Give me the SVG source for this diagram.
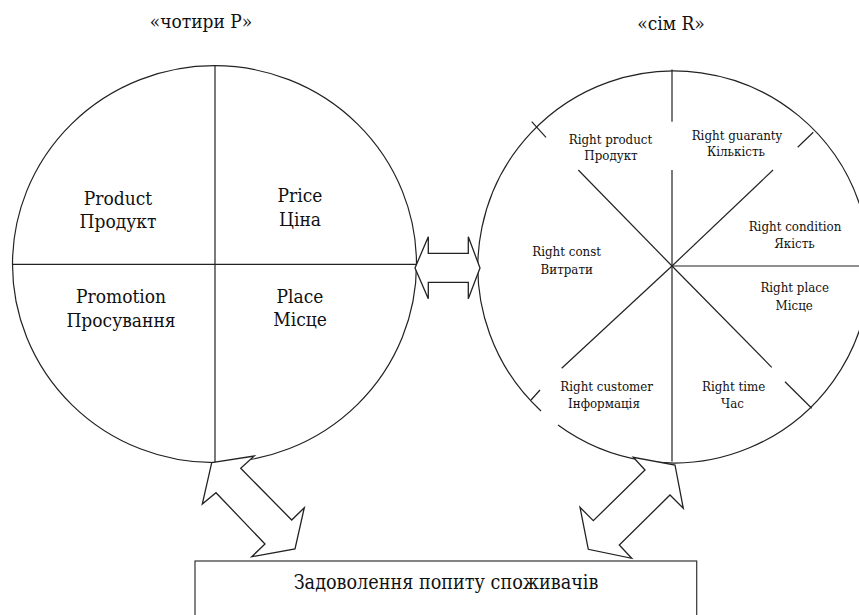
<svg xmlns="http://www.w3.org/2000/svg" width="859" height="615" viewBox="0 0 859 615">
<style>
  .ln{fill:none;stroke:#222;stroke-width:1.2}
  .ar{fill:#fff;stroke:#222;stroke-width:1.3;stroke-linejoin:miter}
  .t{fill:#111;text-anchor:middle;font-family:'DejaVu Serif',serif;font-stretch:condensed}
  .big{font-size:19px}
  .sm{font-size:13.2px}
</style>
<rect width="859" height="615" fill="#fff"/>
<g id="title-4p"><text class="t big" x="201" y="28">«чотири P»</text></g>
<g id="title-7r"><text class="t big" x="671" y="30">«сім R»</text></g>

<g id="four-p">
  <ellipse class="ln" cx="214.5" cy="264.2" rx="202" ry="198.5"/>
  <line class="ln" x1="215" y1="65.7" x2="215" y2="462.7" stroke="#555"/>
  <line class="ln" x1="12.5" y1="264.3" x2="416.5" y2="264.3"/>
  <text class="t big" x="118" y="205">Product</text>
  <text class="t big" x="118" y="228">Продукт</text>
  <text class="t big" x="300" y="202">Price</text>
  <text class="t big" x="300" y="226">Ціна</text>
  <text class="t big" x="121" y="303">Promotion</text>
  <text class="t big" x="121" y="327">Просування</text>
  <text class="t big" x="300" y="303">Place</text>
  <text class="t big" x="300" y="326">Місце</text>
</g>

<g id="seven-r">
  <path class="ln" d="M541,411 A196,196 0 1 1 558,425"/>
  <line class="ln" x1="672" y1="69.5" x2="672" y2="121.7"/>
  <line class="ln" x1="672" y1="170" x2="672" y2="266"/>
  <line class="ln" x1="672" y1="266" x2="672" y2="461.5"/>
  <line class="ln" x1="672" y1="266" x2="859" y2="266"/>
  <line class="ln" x1="672" y1="266" x2="578.3" y2="170"/>
  <line class="ln" x1="546" y1="137.3" x2="531.7" y2="121.7"/>
  <line class="ln" x1="672" y1="266" x2="773" y2="170"/>
  <line class="ln" x1="797.7" y1="147.3" x2="813.3" y2="132.3"/>
  <line class="ln" x1="672" y1="266" x2="561.7" y2="368.3"/>
  <line class="ln" x1="540" y1="390" x2="531" y2="400"/>
  <line class="ln" x1="672" y1="266" x2="771.7" y2="367.3"/>
  <line class="ln" x1="785" y1="381.7" x2="811.7" y2="408.3"/>
  <text class="t sm" x="610.5" y="144">Right product</text>
  <text class="t sm" x="611" y="160">Продукт</text>
  <text class="t sm" x="737" y="140">Right guaranty</text>
  <text class="t sm" x="736" y="156">Кількість</text>
  <text class="t sm" x="795" y="231">Right condition</text>
  <text class="t sm" x="794.5" y="247.5">Якість</text>
  <text class="t sm" x="566.7" y="256">Right const</text>
  <text class="t sm" x="566.7" y="273.5">Витрати</text>
  <text class="t sm" x="794.7" y="292">Right place</text>
  <text class="t sm" x="794.2" y="309.5">Місце</text>
  <text class="t sm" x="606.7" y="391">Right customer</text>
  <text class="t sm" x="604" y="407.5">Інформація</text>
  <text class="t sm" x="733.7" y="391">Right time</text>
  <text class="t sm" x="732.5" y="407.5">Час</text>
</g>

<g id="result">
  <rect x="195" y="561" width="501.7" height="60" fill="#fff" stroke="#333" stroke-width="1.2"/>
  <text class="t" font-size="19.6" x="446" y="588.5">Задоволення попиту споживачів</text>
</g>

<g id="connectors">
  <polygon class="ar" points="415,268 428.3,236.7 428.3,253.3 468.3,253.3 468.3,236.7 480,268 468.3,298.7 468.3,282.3 428.3,282.3 428.3,298.7"/>
  <polygon class="ar" points="211.7,462.7 254.3,456 240.7,468.3 291.7,520 304.3,507.7 295,549 251.7,556.7 265,544 216,492.7 202.3,504"/>
  <polygon class="ar" points="675,465 683.3,508.3 670,495 619.3,545 631.7,558.3 588.3,549.3 580,507.3 593.3,520.7 645,470 633.3,457.3"/>
</g>
</svg>
